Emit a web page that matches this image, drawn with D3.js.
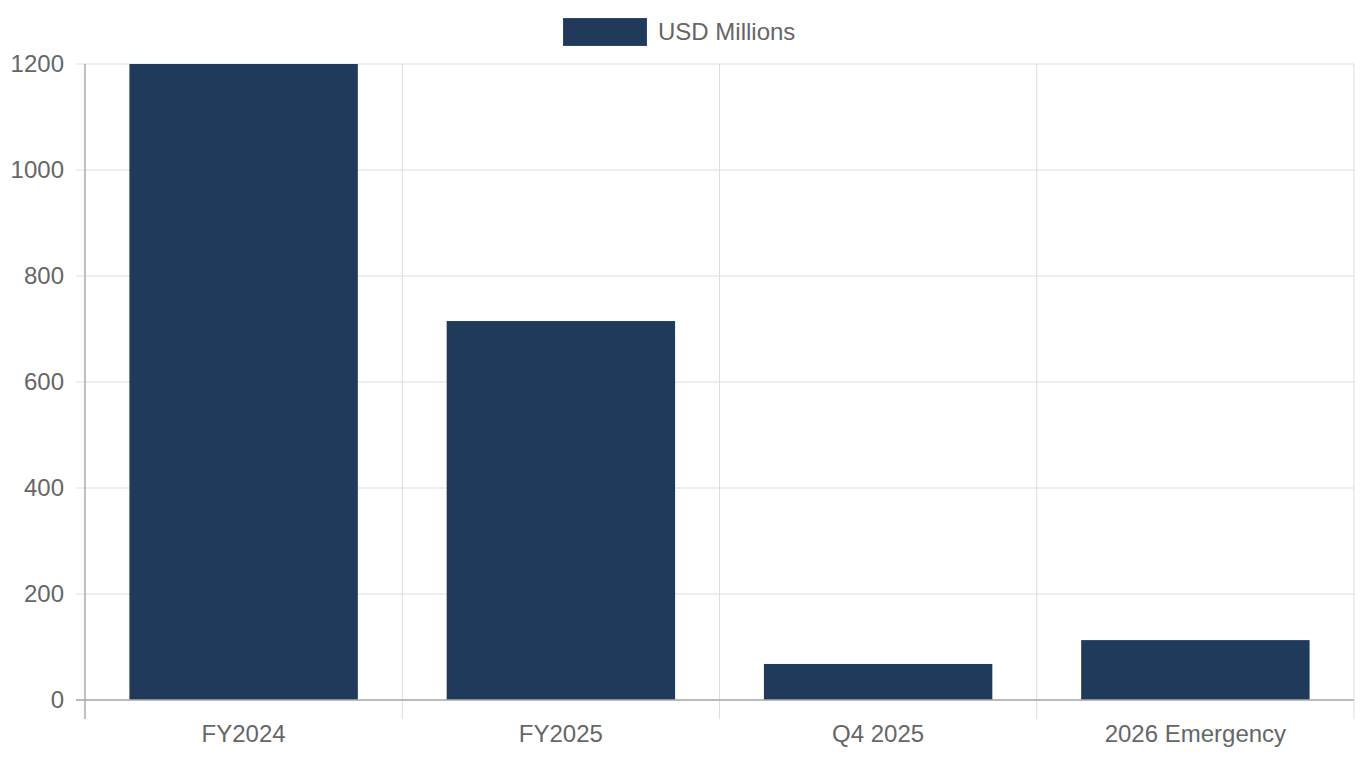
<!DOCTYPE html>
<html>
<head>
<meta charset="utf-8">
<script src="https://cdn.jsdelivr.net/npm/d3@7"></script>
<style>
  html, body { margin: 0; padding: 0; background: #fff; }
  svg { display: block; font-family: "Liberation Sans", Arial, sans-serif; }
</style>
</head>
<body>
<svg id="chart" width="1360" height="760"></svg>
<script>
const categories = ["FY2024", "FY2025", "Q4 2025", "2026 Emergency"];
const values = [1200, 715, 68, 113];
const seriesName = "USD Millions";
const yTicks = [0, 200, 400, 600, 800, 1000, 1200];

const W = 1360, H = 760;
const margin = { left: 85, right: 6, top: 64, bottom: 60 };
const svg = d3.select("#chart");
const x = d3.scaleBand().domain(categories).range([margin.left, W - margin.right]).paddingInner(0).paddingOuter(0);
const y = d3.scaleLinear().domain([0, 1200]).range([H - margin.bottom, margin.top]);

const gridColor = "#dddddd";
const axisColor = "#aaaaaa";
const textColor = "#666666";
const barColor = "#1f3a5a";

// horizontal grid + left ticks
svg.append("g").selectAll("line").data(yTicks).join("line")
  .attr("x1", margin.left - 9).attr("x2", W - margin.right)
  .attr("y1", d => y(d)).attr("y2", d => y(d))
  .attr("stroke", gridColor).attr("stroke-width", 1);

// vertical grid lines at category boundaries
const bounds = categories.map(c => x(c)).concat([x(categories[categories.length - 1]) + x.bandwidth()]);
svg.append("g").selectAll("line").data(bounds.slice(1)).join("line")
  .attr("x1", d => d).attr("x2", d => d)
  .attr("y1", margin.top).attr("y2", H - margin.bottom + 19)
  .attr("stroke", gridColor).attr("stroke-width", 1);

// clip
svg.append("clipPath").attr("id", "clip").append("rect")
  .attr("x", margin.left).attr("y", margin.top)
  .attr("width", W - margin.right - margin.left).attr("height", H - margin.bottom - margin.top);

// bars
const barW = x.bandwidth() * 0.72;
svg.append("g").attr("clip-path", "url(#clip)").selectAll("rect").data(categories).join("rect")
  .attr("x", c => x(c) + (x.bandwidth() - barW) / 2)
  .attr("width", barW)
  .attr("y", (c, i) => y(values[i]))
  .attr("height", (c, i) => y(0) - y(values[i]))
  .attr("fill", barColor);

// axes lines
svg.append("line").attr("x1", margin.left).attr("x2", margin.left)
  .attr("y1", margin.top).attr("y2", H - margin.bottom + 19)
  .attr("stroke", axisColor).attr("stroke-width", 1.5);
svg.append("line").attr("x1", margin.left - 9).attr("x2", W - margin.right)
  .attr("y1", y(0)).attr("y2", y(0))
  .attr("stroke", axisColor).attr("stroke-width", 1.5);

// y labels
svg.append("g").selectAll("text").data(yTicks).join("text")
  .attr("x", margin.left - 21).attr("y", d => y(d))
  .attr("dy", "0.35em").attr("text-anchor", "end")
  .attr("fill", textColor).attr("font-size", 24)
  .text(d => d);

// x labels
svg.append("g").selectAll("text").data(categories).join("text")
  .attr("x", c => x(c) + x.bandwidth() / 2).attr("y", H - margin.bottom + 34)
  .attr("dy", "0.35em").attr("text-anchor", "middle")
  .attr("fill", textColor).attr("font-size", 24)
  .text(c => c);

// legend
const leg = svg.append("g");
leg.append("rect").attr("x", 563.5).attr("y", 18.5).attr("width", 83).attr("height", 27)
  .attr("fill", barColor).attr("stroke", "#2a4868").attr("stroke-width", 1);
leg.append("text").attr("x", 658).attr("y", 32).attr("dy", "0.35em")
  .attr("fill", textColor).attr("font-size", 24).text(seriesName);
</script>
</body>
</html>
